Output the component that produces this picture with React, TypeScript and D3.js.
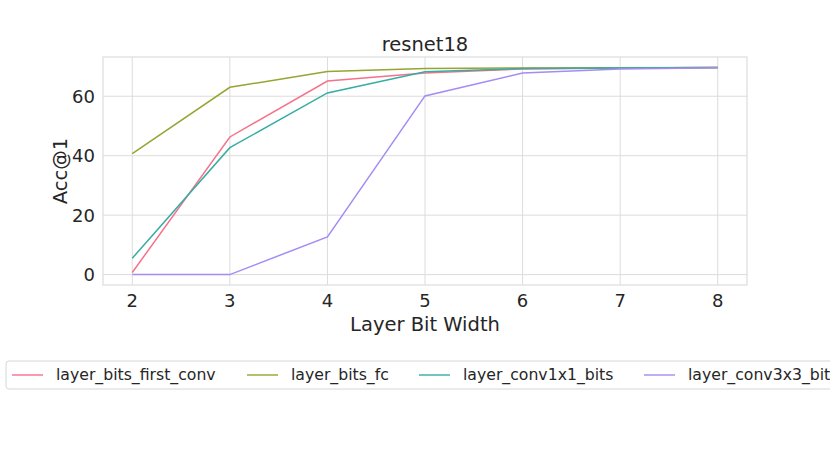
import { useEffect, useRef } from "react";
import * as d3 from "d3";

// data
const BIT_WIDTHS = [2, 3, 4, 5, 6, 7, 8];
const FIRST_CONV = [0.7, 46.3, 65.1, 67.8, 69.2, 69.5, 69.7];
const FC = [40.7, 63.0, 68.3, 69.3, 69.5, 69.6, 69.7];
const CONV1X1 = [5.5, 42.7, 61.1, 68.2, 69.3, 69.5, 69.7];
const CONV3X3 = [0.0, 0.0, 12.7, 60.1, 67.8, 69.2, 69.6];
const SERIES_NAMES = [
  "layer_bits_first_conv",
  "layer_bits_fc",
  "layer_conv1x1_bits",
  "layer_conv3x3_bits",
];
const Y_TICKS = [0, 20, 40, 60];

const COLORS = ["#f77189", "#97a431", "#36ada4", "#a48cf4"];
const FONT = "DejaVu Sans, sans-serif";

export default function App() {
  const ref = useRef<SVGSVGElement>(null);

  useEffect(() => {
    if (!ref.current) return;
    const svg = d3.select(ref.current);
    svg.selectAll("*").remove();

    const W = 830;
    const H = 475;
    const m = { top: 57, right: 83, bottom: 190, left: 103 };
    const w = W - m.left - m.right;
    const h = H - m.top - m.bottom;

    const x = d3.scaleLinear().domain([1.7, 8.3]).range([0, w]);
    const y = d3.scaleLinear().domain([-3.5, 73.2]).range([h, 0]);

    const g = svg.append("g").attr("transform", `translate(${m.left},${m.top})`);

    // grid
    g.selectAll(".gx")
      .data(BIT_WIDTHS)
      .join("line")
      .attr("x1", (d) => x(d))
      .attr("x2", (d) => x(d))
      .attr("y1", 0)
      .attr("y2", h)
      .attr("stroke", "#dcdcdc")
      .attr("stroke-width", 1);
    g.selectAll(".gy")
      .data(Y_TICKS)
      .join("line")
      .attr("x1", 0)
      .attr("x2", w)
      .attr("y1", (d) => y(d))
      .attr("y2", (d) => y(d))
      .attr("stroke", "#dcdcdc")
      .attr("stroke-width", 1);

    // frame
    g.append("rect")
      .attr("width", w)
      .attr("height", h)
      .attr("fill", "none")
      .attr("stroke", "#dcdcdc")
      .attr("stroke-width", 1.2);

    // tick labels
    g.selectAll(".tx")
      .data(BIT_WIDTHS)
      .join("text")
      .attr("x", (d) => x(d))
      .attr("y", h + 22)
      .attr("text-anchor", "middle")
      .attr("font-family", FONT)
      .attr("font-size", 18)
      .attr("fill", "#262626")
      .text((d) => d);
    g.selectAll(".ty")
      .data(Y_TICKS)
      .join("text")
      .attr("x", -8)
      .attr("y", (d) => y(d))
      .attr("dy", "0.36em")
      .attr("text-anchor", "end")
      .attr("font-family", FONT)
      .attr("font-size", 18)
      .attr("fill", "#262626")
      .text((d) => d);

    // labels
    g.append("text")
      .attr("x", w / 2)
      .attr("y", h + 46)
      .attr("text-anchor", "middle")
      .attr("font-family", FONT)
      .attr("font-size", 19.5)
      .attr("fill", "#262626")
      .text("Layer Bit Width");
    g.append("text")
      .attr("transform", "rotate(-90)")
      .attr("x", -h / 2)
      .attr("y", -36)
      .attr("text-anchor", "middle")
      .attr("font-family", FONT)
      .attr("font-size", 19.5)
      .attr("fill", "#262626")
      .text("Acc@1");
    g.append("text")
      .attr("x", w / 2)
      .attr("y", -6)
      .attr("text-anchor", "middle")
      .attr("font-family", FONT)
      .attr("font-size", 19.5)
      .attr("fill", "#262626")
      .text("resnet18");

    // lines
    const line = d3
      .line<number>()
      .x((_, i) => x(BIT_WIDTHS[i]))
      .y((d) => y(d));
    [FIRST_CONV, FC, CONV1X1, CONV3X3].forEach((vals, i) => {
      g.append("path")
        .datum(vals)
        .attr("fill", "none")
        .attr("stroke", COLORS[i])
        .attr("stroke-width", 1.5)
        .attr("d", line);
    });

    // legend
    const leg = svg.append("g").attr("transform", "translate(6,361)");
    leg
      .append("rect")
      .attr("x", 0)
      .attr("y", 0)
      .attr("width", 840)
      .attr("height", 28)
      .attr("rx", 3)
      .attr("fill", "white")
      .attr("stroke", "#d6d6d6")
      .attr("stroke-width", 1);
    const starts = [6, 241, 413, 638];
    SERIES_NAMES.forEach((name, i) => {
      leg
        .append("line")
        .attr("x1", starts[i])
        .attr("x2", starts[i] + 31)
        .attr("y1", 14)
        .attr("y2", 14)
        .attr("stroke", COLORS[i])
        .attr("stroke-opacity", 0.7)
        .attr("stroke-width", 2);
      leg
        .append("text")
        .attr("x", starts[i] + 44)
        .attr("y", 14)
        .attr("dy", "0.35em")
        .attr("font-family", FONT)
        .attr("font-size", 15.7)
        .attr("fill", "#262626")
        .text(name);
    });
  }, []);

  return (
    <svg
      ref={ref}
      width={830}
      height={475}
      style={{ position: "absolute", left: 0, top: 0, background: "white" }}
    />
  );
}
